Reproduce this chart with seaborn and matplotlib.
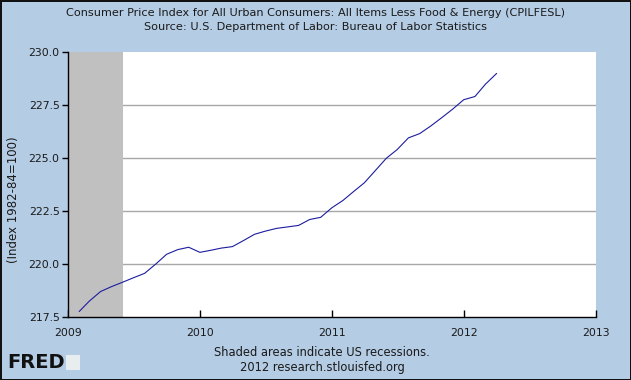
import matplotlib
matplotlib.use("Agg")
import matplotlib.pyplot as plt
import matplotlib.dates as mdates
import pandas as pd
import seaborn as sns

# CPILFESL, monthly, Feb 2009 - Apr 2012
months = pd.date_range("2009-02-01", "2012-04-01", freq="MS")
cpi = [
    217.76, 218.25, 218.70, 218.93, 219.14, 219.35, 219.56, 220.00, 220.46, 220.68, 220.79,
    220.55, 220.65, 220.75, 220.82, 221.10, 221.40, 221.55, 221.68, 221.75, 221.82, 222.10, 222.20,
    222.65, 223.00, 223.40, 223.83, 224.40, 224.99, 225.40, 225.95, 226.15, 226.50, 226.90, 227.30,
    227.75, 227.90, 228.48, 228.99,
]
recession_start, recession_end = "2009-01-01", "2009-06-01"
year_ticks = pd.to_datetime(["2009-01-01", "2010-01-01", "2011-01-01", "2012-01-01", "2013-01-01"])
y_ticks = [217.5, 220.0, 222.5, 225.0, 227.5, 230.0]

df = pd.DataFrame({"date": months, "value": cpi})

sns.set_style("white")
plt.rcParams["font.family"] = ["DejaVu Sans"]
bg = "#B4CCE4"
txt = "#1a1a1a"

fig = plt.figure(figsize=(6.31, 3.80), dpi=100)
fig.patch.set_facecolor(bg)
fig.patch.set_edgecolor("#111111")
fig.patch.set_linewidth(2)

ax = fig.add_axes([68 / 631, 1 - 317 / 380, 528 / 631, 265 / 380])
ax.set_facecolor("white")

ax.axvspan(pd.Timestamp(recession_start), pd.Timestamp(recession_end),
           color="#C0C0C0", lw=0, zorder=1)
# grid lines at the inner ticks only
for v in y_ticks[1:-1]:
    ax.axhline(v, color="#A8A8A8", lw=1, zorder=0.5)

sns.lineplot(data=df, x="date", y="value", ax=ax, color="#1c1ca0", lw=0.8, zorder=3)

ax.set_xlim(year_ticks[0], year_ticks[-1])
ax.set_ylim(217.5, 230.0)
ax.set_xticks(year_ticks)
ax.xaxis.set_major_formatter(mdates.DateFormatter("%Y"))
ax.set_yticks(y_ticks)
ax.set_yticklabels([f"{v:.1f}" for v in y_ticks])
ax.set_xlabel("")
ax.set_ylabel("")

for s in ["top", "right"]:
    ax.spines[s].set_visible(False)
for s in ["left", "bottom"]:
    ax.spines[s].set_color("black")
    ax.spines[s].set_linewidth(1)

ax.tick_params(axis="y", direction="out", length=4, width=1, color="black",
               labelsize=7.8, labelcolor=txt, pad=2, left=True)
ax.tick_params(axis="x", direction="in", length=5, width=1, color="black",
               labelsize=7.8, labelcolor=txt, pad=8, bottom=True)

fig.text(0.5, 1 - 13 / 380,
         "Consumer Price Index for All Urban Consumers: All Items Less Food & Energy (CPILFESL)",
         ha="center", va="center", fontsize=8.1, color=txt)
fig.text(0.5, 1 - 27 / 380,
         "Source: U.S. Department of Labor: Bureau of Labor Statistics",
         ha="center", va="center", fontsize=8.1, color=txt)
fig.text(14 / 631, 1 - 200 / 380, "(Index 1982-84=100)", rotation=90,
         ha="center", va="center", fontsize=8.5, color=txt)
fig.text(322 / 631, 1 - 352 / 380, "Shaded areas indicate US recessions.",
         ha="center", va="center", fontsize=8.3, color=txt)
fig.text(322 / 631, 1 - 367 / 380, "2012 research.stlouisfed.org",
         ha="center", va="center", fontsize=8.3, color=txt)
fig.text(7 / 631, 1 - 362 / 380, "FRED", ha="left", va="center",
         fontsize=14, fontweight="bold", color="#111111")
# small logo tile next to the wordmark
fig.patches.append(plt.Rectangle((66 / 631, 1 - 370 / 380), 14 / 631, 15 / 380,
                                 transform=fig.transFigure, facecolor="#E8EEF0",
                                 edgecolor="none"))

fig.savefig("out.png", dpi=100, facecolor=bg, edgecolor="#111111")
